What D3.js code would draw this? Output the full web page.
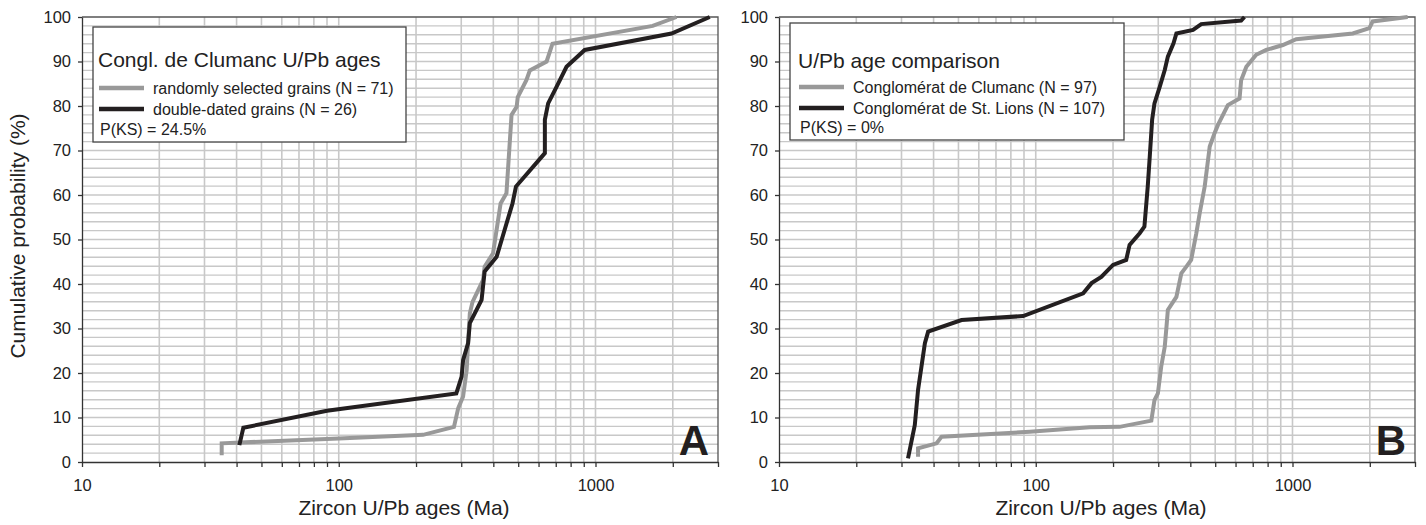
<!DOCTYPE html>
<html>
<head>
<meta charset="utf-8">
<script src="https://cdn.jsdelivr.net/npm/d3@7"></script>
<style>
  body { margin: 0; background: #fff; }
  svg { font-family: "Liberation Sans", Arial, sans-serif; }
  .axis path, .axis line { stroke: #333; stroke-width: 1.3; }
  .axis text { fill: #222; font-size: 16.5px; }
</style>
</head>
<body>
<div id="chart"></div>
<script>
var svgWidth = 1426;
var svgHeight = 525;

// panel A: Clumanc, random vs double-dated grains
var randomAges = [35, 35, 100, 213, 281, 292, 305, 315, 319, 324, 332, 365, 370, 399, 427, 450, 471, 493, 498, 538, 555, 645, 680, 1670, 2068];
var randomCum = [1.5, 4.2, 5.3, 6.1, 7.9, 12.1, 14.7, 20.7, 26.7, 33.4, 36.0, 40.9, 43.9, 46.9, 58.1, 60.4, 78.0, 79.8, 82.0, 85.8, 88.0, 90.0, 94.0, 98.0, 100];
var doubleAges = [41, 42.5, 90, 287, 301, 305, 319, 324, 360, 370, 412, 475, 490, 635, 635, 654, 705, 771, 908, 1977, 2786];
var doubleCum = [3.8, 7.7, 11.5, 15.4, 19.2, 22.9, 26.7, 31.2, 36.4, 42.8, 46.1, 58.1, 61.9, 69.4, 76.9, 80.6, 84.3, 88.8, 92.6, 96.3, 100];

// panel B: Clumanc vs St. Lions
var clumancAges = [34.8, 34.8, 41.1, 43.0, 94.8, 162, 212, 282, 290, 299, 308, 318, 323, 327, 353, 369, 386, 403, 422, 435, 455, 476, 497, 512, 560, 622, 631, 661, 722, 790, 917, 1034, 1717, 1993, 2053, 2809];
var clumancCum = [1.2, 3.1, 4.2, 5.7, 6.8, 7.8, 7.9, 9.3, 13.9, 15.4, 21.4, 25.9, 30.4, 34.2, 37.1, 42.4, 43.9, 45.4, 51.4, 55.9, 61.9, 70.9, 73.9, 75.7, 80.2, 81.7, 85.8, 88.8, 91.5, 92.6, 93.7, 95.0, 96.3, 97.5, 99.0, 100];
var lionsAges = [31.8, 33.8, 34.8, 37.0, 38.1, 51.4, 89.3, 153, 165, 180, 200, 225, 232, 254, 265, 273, 278, 284, 290, 304, 318, 327, 344, 353, 410, 441, 631, 650];
var lionsCum = [0.8, 8.3, 16.2, 26.7, 29.3, 31.9, 32.8, 37.9, 40.2, 41.6, 44.3, 45.4, 48.8, 51.4, 52.9, 61.9, 68.6, 76.9, 80.6, 84.3, 88.1, 91.1, 94.1, 96.3, 97.1, 98.4, 99.2, 100];

var xTicks = [10, 20, 30, 40, 50, 60, 70, 80, 90, 100, 200, 300, 400, 500, 600, 700, 800, 900, 1000, 2000, 3000];
var xLabels = [10, 100, 1000];
var yTicks = [0, 10, 20, 30, 40, 50, 60, 70, 80, 90, 100];

var grey = "#999999";
var black = "#231f20";

var plotTop = 17;
var plotBottom = 462;

var svg = d3.select("#chart")
  .append("svg")
  .attr("width", svgWidth)
  .attr("height", svgHeight);

function zip(a, b) {
  return a.map((d, i) => [d, b[i]]);
}

function panel(opts) {
  var xScale = d3.scaleLog()
    .domain([10, 3000])
    .range([opts.left, opts.right]);

  var yScale = d3.scaleLinear()
    .domain([0, 100])
    .range([plotBottom, plotTop]);

  var g = svg.append("g");

  // grid
  g.selectAll(".hgrid")
    .data(d3.range(2, 100, 2))
    .enter()
    .append("line")
    .attr("x1", opts.left)
    .attr("x2", opts.right)
    .attr("y1", d => yScale(d))
    .attr("y2", d => yScale(d))
    .attr("stroke", "#c8c8c8")
    .attr("stroke-width", 1.4);

  g.selectAll(".vgrid")
    .data(xTicks.slice(1, -1))
    .enter()
    .append("line")
    .attr("x1", d => xScale(d))
    .attr("x2", d => xScale(d))
    .attr("y1", plotTop)
    .attr("y2", plotBottom)
    .attr("stroke", "#c8c8c8")
    .attr("stroke-width", 1.6);

  // frame top and right
  g.append("path")
    .attr("d", `M${opts.left},${plotTop}H${opts.right}V${plotBottom}`)
    .attr("fill", "none")
    .attr("stroke", "#555")
    .attr("stroke-width", 1.3);

  var yAxis = d3.axisLeft(yScale)
    .tickValues(yTicks)
    .tickSize(4)
    .tickSizeOuter(0)
    .tickPadding(7);

  var xAxis = d3.axisBottom(xScale)
    .tickValues(xTicks)
    .tickSize(5)
    .tickSizeOuter(0)
    .tickPadding(12)
    .tickFormat(d => xLabels.indexOf(d) >= 0 ? d : "");

  g.append("g")
    .attr("class", "axis")
    .attr("transform", `translate(${opts.left}, 0)`)
    .call(yAxis);

  g.append("g")
    .attr("class", "axis")
    .attr("transform", `translate(0, ${plotBottom})`)
    .call(xAxis);

  var line = d3.line()
    .x(d => xScale(d[0]))
    .y(d => yScale(d[1]));

  // legend box
  var lg = opts.legend;
  g.append("rect")
    .attr("x", lg.x)
    .attr("y", lg.y)
    .attr("width", lg.w)
    .attr("height", lg.h)
    .attr("fill", "#fff")
    .attr("stroke", "#444")
    .attr("stroke-width", 1.3);

  g.append("text")
    .attr("x", lg.x + lg.pad)
    .attr("y", lg.titleY)
    .attr("font-size", "21px")
    .attr("fill", "#222")
    .text(lg.title);

  lg.items.forEach(function(item, i) {
    var yy = lg.lineY[i];
    g.append("line")
      .attr("x1", lg.x + lg.pad + 1)
      .attr("x2", lg.x + lg.pad + 46)
      .attr("y1", yy)
      .attr("y2", yy)
      .attr("stroke", item.color)
      .attr("stroke-width", 4.5);
    g.append("text")
      .attr("x", lg.x + lg.pad + 55)
      .attr("y", yy + 5.5)
      .attr("font-size", "16px")
      .attr("fill", "#222")
      .text(item.label);
  });

  g.append("text")
    .attr("x", lg.x + lg.pad + 2)
    .attr("y", lg.ksY)
    .attr("font-size", "16px")
    .attr("fill", "#222")
    .text(lg.ks);

  // curves
  opts.series.forEach(function(s) {
    g.append("path")
      .datum(s.data)
      .attr("d", line)
      .attr("fill", "none")
      .attr("stroke", s.color)
      .attr("stroke-width", 4);
  });

  g.append("text")
    .attr("x", opts.right - 9)
    .attr("y", plotBottom - 7)
    .attr("text-anchor", "end")
    .attr("font-size", "42px")
    .attr("font-weight", "bold")
    .attr("fill", "#231f20")
    .text(opts.letter);

  g.append("text")
    .attr("x", (opts.left + opts.right) / 2 + 4)
    .attr("y", 515)
    .attr("text-anchor", "middle")
    .attr("font-size", "21px")
    .attr("fill", "#222")
    .text("Zircon U/Pb ages (Ma)");
}

panel({
  left: 82,
  right: 718,
  letter: "A",
  legend: {
    x: 93, y: 27, w: 313, h: 115, pad: 5,
    titleY: 67, lineY: [88, 109], ksY: 135,
    title: "Congl. de Clumanc U/Pb ages",
    items: [
      { label: "randomly selected grains (N = 71)", color: grey },
      { label: "double-dated grains (N = 26)", color: black }
    ],
    ks: "P(KS) = 24.5%"
  },
  series: [
    { data: zip(randomAges, randomCum), color: grey },
    { data: zip(doubleAges, doubleCum), color: black }
  ]
});

panel({
  left: 779,
  right: 1415,
  letter: "B",
  legend: {
    x: 790, y: 23, w: 334, h: 117, pad: 8,
    titleY: 68, lineY: [87, 108], ksY: 133,
    title: "U/Pb age comparison",
    items: [
      { label: "Conglomérat de Clumanc (N = 97)", color: grey },
      { label: "Conglomérat de St. Lions (N = 107)", color: black }
    ],
    ks: "P(KS) = 0%"
  },
  series: [
    { data: zip(clumancAges, clumancCum), color: grey },
    { data: zip(lionsAges, lionsCum), color: black }
  ]
});

svg.append("text")
  .attr("transform", "translate(25, 236) rotate(-90)")
  .attr("text-anchor", "middle")
  .attr("font-size", "21px")
  .attr("fill", "#222")
  .text("Cumulative probability (%)");
</script>
</body>
</html>
